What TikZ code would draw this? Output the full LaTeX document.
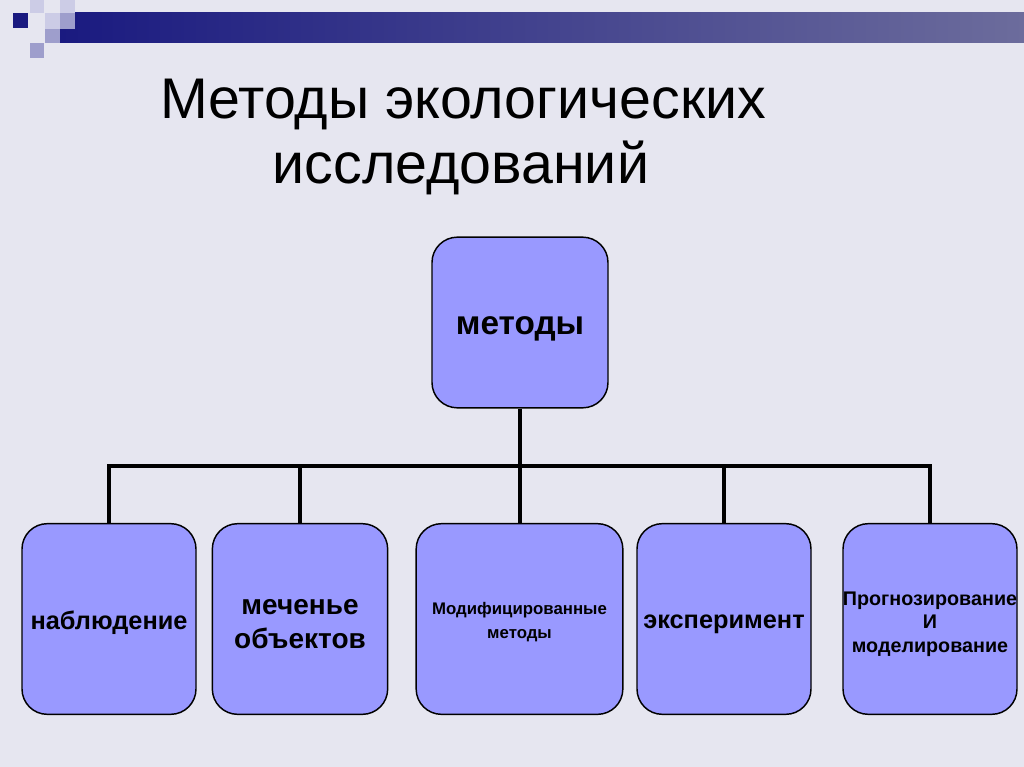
\documentclass[tikz,border=0pt]{standalone}
\usepackage{fontspec}
\setmainfont{Liberation Sans}
\definecolor{bg}{HTML}{E6E6F0}
\definecolor{boxfill}{HTML}{9999FF}
\definecolor{navy}{HTML}{1A1A80}
\definecolor{barend}{HTML}{6C6C9C}
\definecolor{sqlight}{HTML}{CCCCE6}
\definecolor{sqmid}{HTML}{9E9ECC}
\tikzset{
  box/.style={draw=black, line width=1.1pt, fill=boxfill, rounded corners=19pt, inner sep=0pt},
  btext/.style={align=center, inner sep=0pt},
  conn/.style={draw=black, line width=2.3pt},
  ttl/.style={font=\fontsize{43pt}{49pt}\selectfont, anchor=base, inner sep=0pt}
}
\begin{document}
\begin{tikzpicture}[x=0.75pt,y=-0.75pt]
\useasboundingbox (0,0) rectangle (1024,767);
\fill[bg] (0,0) rectangle (1024,767);
% header decoration
\shade[left color=navy, right color=barend] (60,13) rectangle (1024,43);
\fill[sqlight] (30,0) rectangle (44,13);
\fill[sqlight] (60,0) rectangle (75,13);
\fill[sqlight] (45,13) rectangle (60,29);
\fill[sqmid] (60,13) rectangle (75,29);
\fill[sqmid] (45,29) rectangle (60,43);
\fill[sqmid] (30,43) rectangle (44,58);
\fill[navy] (13,13) rectangle (28,28);
% title
\node[ttl] (title1) at (463,118) {Методы экологических};
\node[ttl] (title2) at (461,183) {исследований};
% boxes
\node[box, minimum width=132pt, minimum height=128pt,
  label={[btext, yshift=-4.5pt, font=\bfseries\fontsize{25pt}{30pt}\selectfont]center:методы}] (m) at (520,322.5) {};
\node[box, minimum width=130.5pt, minimum height=143pt,
  label={[btext, yshift=-3pt, font=\bfseries\fontsize{19pt}{23pt}\selectfont]center:наблюдение}] (b1) at (109,619) {};
\node[box, minimum width=131.5pt, minimum height=143pt,
  label={[btext, yshift=-3.75pt, font=\bfseries\fontsize{21pt}{25pt}\selectfont]center:меченье\\объектов}] (b2) at (300,619) {};
\node[box, minimum width=155pt, minimum height=143pt,
  label={[btext, yshift=-2.25pt, font=\bfseries\fontsize{12.6pt}{18pt}\selectfont]center:Модифицированные\\методы}] (b3) at (519.5,619) {};
\node[box, minimum width=130.5pt, minimum height=143pt,
  label={[btext, yshift=-3.75pt, font=\bfseries\fontsize{19pt}{23pt}\selectfont]center:эксперимент}] (b4) at (724,619) {};
\node[box, minimum width=130.5pt, minimum height=143pt,
  label={[btext, yshift=-3.75pt, font=\bfseries\fontsize{14.8pt}{17.8pt}\selectfont]center:Прогнозирование\\И\\моделирование}] (b5) at (930,619) {};
% connectors
\coordinate (h) at (520,466);
\draw[conn] (m.south) -- (h);
\draw[conn] (b1.north) |- (b5.north |- h) -- (b5.north);
\draw[conn] (b2.north) -- (b2.north |- h);
\draw[conn] (h) -- (h |- b3.north);
\draw[conn] (b4.north) -- (b4.north |- h);
\end{tikzpicture}
\end{document}
